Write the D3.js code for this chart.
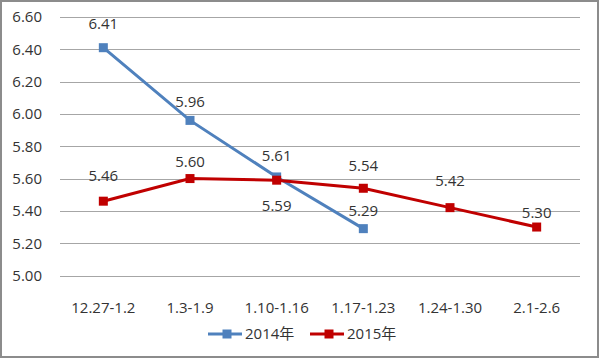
<!DOCTYPE html>
<html><head><meta charset="utf-8">
<script src="https://cdn.jsdelivr.net/npm/d3@7"></script>
<style>body{margin:0;background:#fff}svg{display:block}text{font-family:"Open Sans","Noto Sans CJK SC",sans-serif}</style>
</head><body><svg id="c" width="600" height="359"></svg>
<script>
const categories=["12.27-1.2","1.3-1.9","1.10-1.16","1.17-1.23","1.24-1.30","2.1-2.6"];
const series2014=[6.41,5.96,5.61,5.29,null,null];
const series2015=[5.46,5.60,5.59,5.54,5.42,5.30];
const yTicks=[5.00,5.20,5.40,5.60,5.80,6.00,6.20,6.40,6.60];
const seriesNames=["2014年","2015年"];
// label centre offsets (px) relative to marker, as placed in the original
const labelDy2014=[-24,-19,-21,-18];
const labelDy2015=[-25,-17,26,-23,-27,-14];
const colors=["#4F81BD","#C00000"];
const FS=15, TXT="#333";

const svg=d3.select("#c");
svg.append("rect").attr("x",1).attr("y",1).attr("width",597).attr("height",356).attr("fill","#fff").attr("stroke","#8c8c8c").attr("stroke-width",2);
const x=d3.scaleBand().domain(categories).range([60,580]);
const y=d3.scaleLinear().domain([5.0,6.6]).range([275.5,17]);
svg.selectAll("line.grid").data(yTicks).join("line").attr("x1",60).attr("x2",580)
 .attr("y1",d=>Math.round(y(d))+0.5).attr("y2",d=>Math.round(y(d))+0.5).attr("stroke","#a6a6a6").attr("stroke-width",1);
const yAxis=d3.axisLeft(y).tickValues(yTicks).tickFormat(d3.format(".2f")).tickSize(0).tickPadding(18);
const ya=svg.append("g").attr("transform","translate(60,0)").call(yAxis);
ya.select(".domain").remove();
ya.selectAll("text").attr("font-size",FS).attr("fill",TXT).attr("font-family",null);
const xAxis=d3.axisBottom(x).tickSize(0).tickPadding(17);
const xa=svg.append("g").attr("transform","translate(0,285)").call(xAxis);
xa.select(".domain").remove();
xa.selectAll("text").attr("font-size",FS).attr("fill",TXT).attr("font-family",null);
const cx=c=>x(c)+x.bandwidth()/2;
function drawSeries(vals,color,dys){
  const pts=categories.map((c,i)=>({c,v:vals[i],i})).filter(d=>d.v!=null);
  svg.append("path").datum(pts).attr("fill","none").attr("stroke",color).attr("stroke-width",3)
   .attr("d",d3.line().x(d=>cx(d.c)).y(d=>y(d.v)));
  svg.selectAll(null).data(pts).join("rect").attr("x",d=>cx(d.c)-4.5).attr("y",d=>y(d.v)-4.5)
   .attr("width",9).attr("height",9).attr("fill",color);
  svg.selectAll(null).data(pts).join("text").attr("x",d=>cx(d.c))
   .attr("y",d=>y(d.v)+dys[d.i]).attr("dy","0.35em")
   .attr("text-anchor","middle").attr("font-size",FS).attr("fill",TXT).text(d=>d.v.toFixed(2));
}
drawSeries(series2014,colors[0],labelDy2014);
drawSeries(series2015,colors[1],labelDy2015);
const lx=[208,310];
seriesNames.forEach((n,i)=>{
  svg.append("line").attr("x1",lx[i]).attr("x2",lx[i]+34).attr("y1",334).attr("y2",334).attr("stroke",colors[i]).attr("stroke-width",3);
  svg.append("rect").attr("x",lx[i]+19-4.5).attr("y",334-4.5).attr("width",9).attr("height",9).attr("fill",colors[i]);
  svg.append("text").attr("x",lx[i]+37).attr("y",334).attr("dy","0.35em").attr("font-size",FS).attr("fill",TXT).text(n);
});
</script></body></html>
